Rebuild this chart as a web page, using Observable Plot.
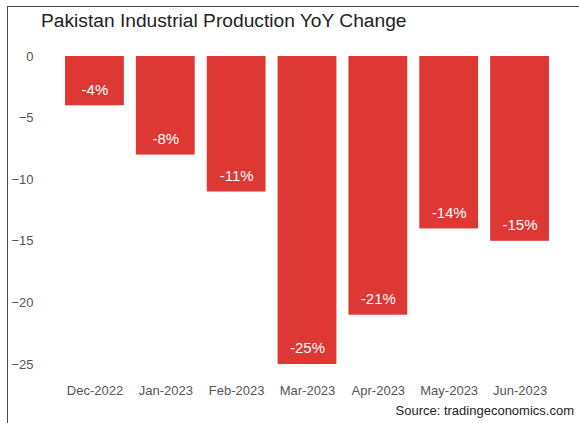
<!DOCTYPE html>
<html>
<head>
<meta charset="utf-8">
<script src="https://cdn.jsdelivr.net/npm/d3@7"></script>
<script src="https://cdn.jsdelivr.net/npm/@observablehq/plot@0.6"></script>
<style>
  html, body { margin: 0; padding: 0; background: #fff; }
  #frame { position: relative; width: 579px; height: 423px; overflow: hidden; font-family: "Liberation Sans", Arial, sans-serif; }
  #border { position: absolute; left: 7px; top: 6px; width: 600px; height: 500px; border-left: 1.5px solid #4a4a4a; border-top: 1.5px solid #4a4a4a; box-sizing: border-box; }
  #title { position: absolute; left: 41px; top: 9px; font-size: 19.2px; line-height: 24px; color: #222; white-space: nowrap; }
  #chart { position: absolute; left: 0; top: 40px; }
  #source { position: absolute; right: 5px; top: 403px; font-size: 13px; line-height: 16px; color: #222; white-space: nowrap; }
</style>
</head>
<body>
<div id="frame">
  <div id="border"></div>
  <div id="title">Pakistan Industrial Production YoY Change</div>
  <div id="chart"></div>
  <div id="source">Source: tradingeconomics.com</div>
</div>
<script>
const months = ["Dec-2022", "Jan-2023", "Feb-2023", "Mar-2023", "Apr-2023", "May-2023", "Jun-2023"];
const values = [-4, -8, -11, -25, -21, -14, -15];
const yTicks = [0, -5, -10, -15, -20, -25];

const data = months.map((m, i) => ({month: m, value: values[i]}));

const plot = Plot.plot({
  width: 579,
  height: 362,
  marginTop: 16,
  marginBottom: 38,
  marginLeft: 53,
  marginRight: 18,
  style: {fontFamily: "'Liberation Sans', Arial, sans-serif", background: "transparent"},
  x: {domain: months, padding: 0.17, round: false, label: null},
  y: {domain: [-25, 0], label: null},
  marks: [
    Plot.barY(data, {x: "month", y: "value", fill: "#dd3833"}),
    Plot.text(data, {x: "month", y: "value", text: d => d.value + "%", dy: -16, fill: "white", fontSize: 15}),
    Plot.axisY({ticks: yTicks, tickSize: 0, tickPadding: 20, fontSize: 13, color: "#555", label: null}),
    Plot.axisX({tickSize: 0, tickPadding: 21, fontSize: 13, color: "#555", label: null})
  ]
});
document.getElementById("chart").appendChild(plot);
</script>
</body>
</html>
